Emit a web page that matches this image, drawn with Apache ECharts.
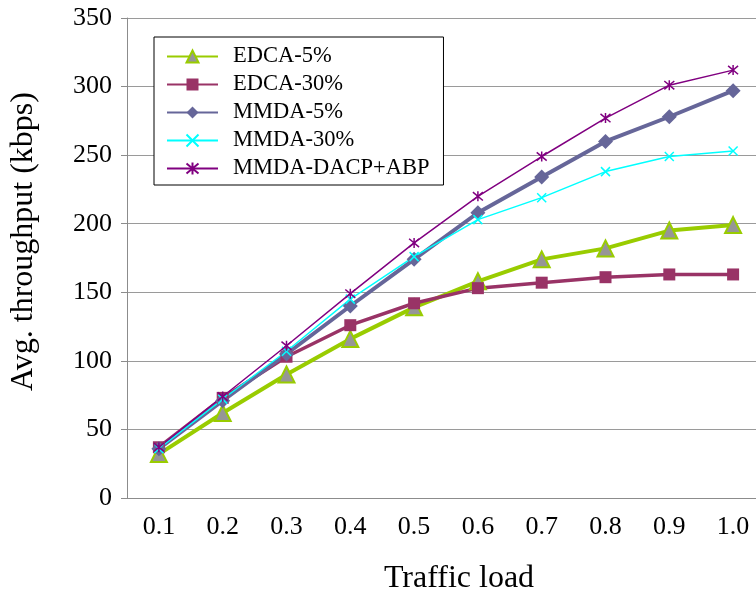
<!DOCTYPE html>
<html>
<head>
<meta charset="utf-8">
<script src="https://cdn.jsdelivr.net/npm/echarts@6/dist/echarts.min.js"></script>
<style>
  html, body { margin: 0; padding: 0; background: #fff; }
  #chart { width: 756px; height: 591px; }
</style>
</head>
<body>
<div id="chart"></div>
<script>
// ============================================================
// 数据
// ============================================================
var CATEGORIES = ['0.1', '0.2', '0.3', '0.4', '0.5', '0.6', '0.7', '0.8', '0.9', '1.0'];
var EDCA_5 = [32, 62, 90, 116, 139, 158, 174, 182, 195, 199];
var EDCA_30 = [37, 73, 103, 126, 142, 153, 157, 161, 163, 163];
var MMDA_5 = [36, 71, 105, 140, 174, 208, 234, 260, 278, 297];
var MMDA_30 = [36, 72, 107, 145, 176, 203, 219, 238, 249, 253];
var MMDA_DACP = [37, 74, 111, 149, 186, 220, 249, 277, 301, 312];
var Y_TICKS = [0, 50, 100, 150, 200, 250, 300, 350];

var FONT = '"Liberation Serif", "Times New Roman", serif';
var AXIS_GREY = '#8c8c8c';

// x / 星号 用描边画出来
var CROSS_PATH = 'path://M0,0L10,10M10,0L0,10';
var STAR_PATH = 'path://M0,0L10,10M10,0L0,10M5,-1L5,11';

var chart = echarts.init(document.getElementById('chart'));

chart.setOption({
  animation: false,
  backgroundColor: '#fff',
  // 绘图区右侧超出画布，关掉 outerBounds 的自动收缩
  grid: {
    left: 127, top: 18, width: 638, bottom: 93,
    containLabel: false,
    outerBoundsMode: 'none',
  },
  legend: {
    orient: 'vertical',
    left: 154,
    top: 37,
    padding: [8, 14, 5, 12],
    itemGap: 5,
    itemWidth: 51,
    itemHeight: 15,
    backgroundColor: '#fff',
    borderColor: '#000',
    borderWidth: 1,
    textStyle: { fontFamily: FONT, fontSize: 22.5, color: '#000', padding: [0, 0, 0, 10] },
    data: ['EDCA-5%', 'EDCA-30%', 'MMDA-5%', 'MMDA-30%', 'MMDA-DACP+ABP'],
  },
  xAxis: {
    type: 'category',
    data: CATEGORIES,
    boundaryGap: true,
    name: 'Traffic load',
    nameLocation: 'middle',
    nameGap: 65,
    nameTextStyle: { fontFamily: FONT, fontSize: 32, color: '#000', padding: [0, 0, 0, 26] },
    axisLine: { lineStyle: { color: AXIS_GREY, width: 1 } },
    axisTick: { show: false },
    axisLabel: { fontFamily: FONT, fontSize: 26, color: '#000', margin: 16 },
    splitLine: { show: false },
  },
  yAxis: {
    type: 'value',
    min: Y_TICKS[0],
    max: Y_TICKS[Y_TICKS.length - 1],
    interval: 50,
    name: 'Avg. throughput (kbps)',
    nameLocation: 'middle',
    nameRotate: 90,
    nameGap: 87,
    nameTextStyle: { fontFamily: FONT, fontSize: 32, color: '#000', padding: [0, 0, 0, 33] },
    axisLine: { show: true, lineStyle: { color: AXIS_GREY, width: 1 } },
    axisTick: { show: true, length: 6, lineStyle: { color: AXIS_GREY } },
    axisLabel: { fontFamily: FONT, fontSize: 26, color: '#000', margin: 15 },
    splitLine: { show: true, lineStyle: { color: '#9a9a9a', width: 1 } },
  },
  series: [
    {
      name: 'EDCA-5%',
      type: 'line',
      data: EDCA_5,
      symbol: 'triangle',
      symbolSize: 16,
      lineStyle: { color: '#99cc00', width: 4 },
      itemStyle: { color: '#969696', borderColor: '#99cc00', borderWidth: 2 },
    },
    {
      name: 'EDCA-30%',
      type: 'line',
      data: EDCA_30,
      symbol: 'rect',
      symbolSize: 12,
      lineStyle: { color: '#993366', width: 3.5 },
      itemStyle: { color: '#993366', borderColor: '#993366', borderWidth: 0 },
    },
    {
      name: 'MMDA-5%',
      type: 'line',
      data: MMDA_5,
      symbol: 'diamond',
      symbolSize: 15,
      lineStyle: { color: '#666699', width: 4 },
      itemStyle: { color: '#666699', borderColor: '#666699', borderWidth: 0 },
    },
    {
      name: 'MMDA-30%',
      type: 'line',
      data: MMDA_30,
      symbol: CROSS_PATH,
      symbolSize: 9,
      lineStyle: { color: '#00ffff', width: 1.5 },
      itemStyle: { color: '#00ffff', borderColor: '#00ffff', borderWidth: 1.5 },
    },
    {
      name: 'MMDA-DACP+ABP',
      type: 'line',
      data: MMDA_DACP,
      symbol: STAR_PATH,
      symbolSize: 10,
      lineStyle: { color: '#800080', width: 1.5 },
      itemStyle: { color: '#800080', borderColor: '#800080', borderWidth: 1.5 },
    },
  ],
});
</script>
</body>
</html>
